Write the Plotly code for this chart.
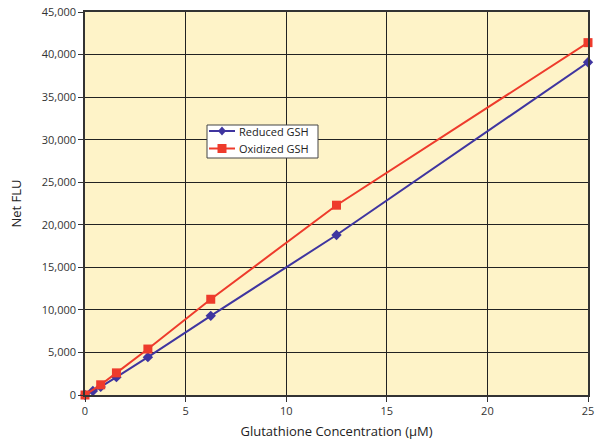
import plotly.graph_objects as go

# Glutathione standard curves (serial dilutions, µM) and net fluorescence
conc_reduced = [0, 0.39, 0.78, 1.5625, 3.125, 6.25, 12.5, 25]
flu_reduced = [0, 470, 950, 2100, 4450, 9300, 18800, 39100]

conc_oxidized = [0, 0.78, 1.5625, 3.125, 6.25, 12.5, 25]
flu_oxidized = [0, 1200, 2600, 5400, 11250, 22300, 41400]

series_names = ["Reduced GSH", "Oxidized GSH"]
series_colors = ["#3F35A0", "#EE3B2C"]

x_ticks = [0, 5, 10, 15, 20, 25]
y_ticks = list(range(0, 45001, 5000))
y_tick_text = [f"{v:,}" for v in y_ticks]

font_family = "Open Sans, Noto Sans, sans-serif"

W, H = 601, 442
ML, MR, MT, MB = 85, 13, 12, 47
PW, PH = W - ML - MR, H - MT - MB


def px_x(px):
    """Pixel column -> paper x."""
    return (px - ML) / PW


def px_y(py):
    """Pixel row -> paper y."""
    return (H - MB - py) / PH


fig = go.Figure()
fig.add_trace(go.Scatter(
    x=conc_reduced, y=flu_reduced, mode="lines+markers", name=series_names[0],
    line=dict(color=series_colors[0], width=2),
    marker=dict(symbol="diamond", size=8, color=series_colors[0]),
    cliponaxis=False,
))
fig.add_trace(go.Scatter(
    x=conc_oxidized, y=flu_oxidized, mode="lines+markers", name=series_names[1],
    line=dict(color=series_colors[1], width=2),
    marker=dict(symbol="square", size=9, color=series_colors[1]),
    cliponaxis=False,
))

# Compact legend box drawn with shapes and annotations
shapes = [dict(type="rect", xref="paper", yref="paper",
               x0=px_x(207), x1=px_x(318), y0=px_y(158), y1=px_y(125),
               fillcolor="white", line=dict(color="#444444", width=1), layer="above")]
annotations = []
for i, (name, color) in enumerate(zip(series_names, series_colors)):
    ry = 131 + i * 17.5
    shapes.append(dict(type="line", xref="paper", yref="paper",
                       x0=px_x(209), x1=px_x(235), y0=px_y(ry), y1=px_y(ry),
                       line=dict(color=color, width=2), layer="above"))
    cx = 222
    if i == 0:
        path = (f"M {px_x(cx)} {px_y(ry - 4.5)} L {px_x(cx + 4)} {px_y(ry)} "
                f"L {px_x(cx)} {px_y(ry + 4.5)} L {px_x(cx - 4)} {px_y(ry)} Z")
        shapes.append(dict(type="path", xref="paper", yref="paper", path=path,
                           fillcolor=color, line=dict(color=color, width=0), layer="above"))
    else:
        shapes.append(dict(type="rect", xref="paper", yref="paper",
                           x0=px_x(cx - 4.5), x1=px_x(cx + 4.5),
                           y0=px_y(ry + 4.5), y1=px_y(ry - 4.5),
                           fillcolor=color, line=dict(color=color, width=0), layer="above"))
    annotations.append(dict(xref="paper", yref="paper", x=px_x(237), y=px_y(ry),
                            xanchor="left", yanchor="middle", showarrow=False,
                            text=name, font=dict(size=11, color="#222222")))

fig.update_layout(
    width=W, height=H,
    margin=dict(l=ML, r=MR, t=MT, b=MB, autoexpand=False),
    paper_bgcolor="white",
    plot_bgcolor="#FEF3C8",
    font=dict(family=font_family, size=11, color="#333333"),
    showlegend=False,
    shapes=shapes,
    annotations=annotations,
)
fig.update_xaxes(
    range=[0, 25], tickvals=x_ticks, ticks="outside", ticklen=5,
    tickcolor="#333333", showgrid=True, gridcolor="#222222", gridwidth=1,
    showline=True, linecolor="#333333", linewidth=1.5, mirror=True,
    zeroline=False, automargin=False,
    title=dict(text="Glutathione Concentration (µM)", font=dict(size=13, color="#222222"), standoff=10),
)
fig.update_yaxes(
    range=[0, 45000], tickvals=y_ticks, ticktext=y_tick_text, ticks="outside",
    ticklen=5, tickcolor="#333333", showgrid=True, gridcolor="#222222",
    gridwidth=1, showline=True, linecolor="#333333", linewidth=1.5,
    mirror=True, zeroline=False, automargin=False,
    title=dict(text="Net FLU", font=dict(size=13, color="#222222"), standoff=17),
)

fig.write_html("out.html")
